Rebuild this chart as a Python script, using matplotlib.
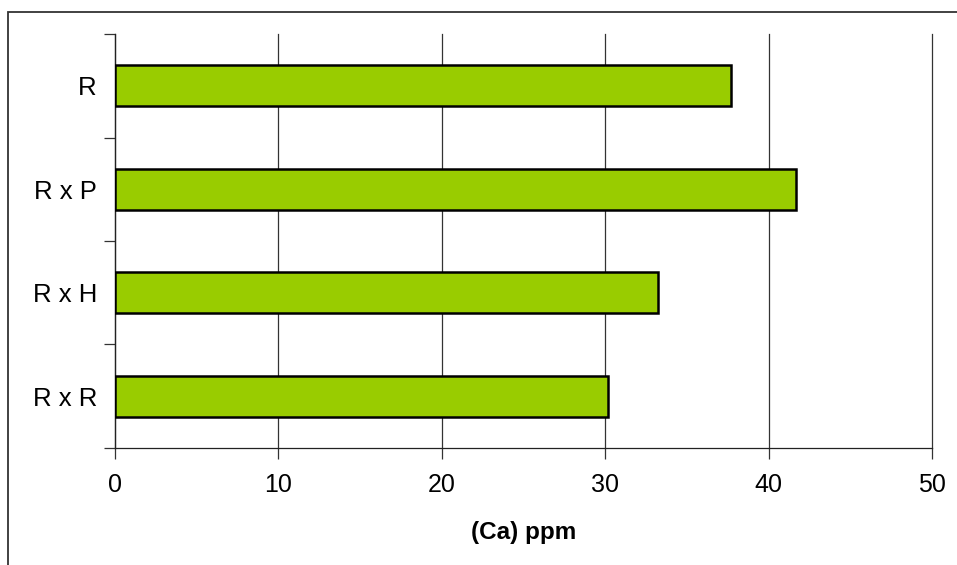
import matplotlib.pyplot as plt
from matplotlib.patches import Rectangle

plt.rcParams['font.family'] = ['Liberation Sans', 'DejaVu Sans']

# Calcium content per cross, top to bottom
categories = ['R', 'R x P', 'R x H', 'R x R']
ca_ppm = [37.7, 41.7, 33.2, 30.2]
x_ticks = [0, 10, 20, 30, 40, 50]

fig = plt.figure(figsize=(9.57, 5.65), dpi=100)
ax = fig.add_axes([0.1202, 0.2071, 0.8537, 0.7327])

# outer frame, only left and top edges fall inside the image
frame = Rectangle((8 / 957, -0.5), 2.0, 1.0 - 12 / 565 + 0.5,
                  transform=fig.transFigure, fill=False,
                  edgecolor='#333333', linewidth=1.3)
fig.patches.append(frame)

n = len(categories)
ypos = [n - 1 - i for i in range(n)]
ax.barh(ypos, ca_ppm, height=0.4, color='#99CC00', edgecolor='black',
        linewidth=1.8, zorder=3)

ax.set_xlim(0, 50)
ax.set_ylim(-0.5, n - 0.5)
ax.set_xticks(x_ticks)
ax.set_xticklabels([str(t) for t in x_ticks], fontsize=18)
ax.grid(axis='x', color='#333333', linewidth=0.9, zorder=0)
ax.set_axisbelow(True)
for gl in ax.get_xgridlines():
    gl.set_clip_on(False)

# category boundaries get the tick marks, labels sit in between
ax.set_yticks([i - 0.5 for i in range(n + 1)])
ax.set_yticklabels([])
ax.set_yticks(ypos, minor=True)
ax.set_yticklabels(categories, minor=True, fontsize=18.5)
ax.tick_params(axis='y', which='minor', length=0, pad=13)
ax.tick_params(axis='y', which='major', length=8, width=0.9, color='#333333')
ax.tick_params(axis='x', length=8, width=0.9, pad=10, color='#333333')

for side in ['top', 'right']:
    ax.spines[side].set_visible(False)
for side in ['left', 'bottom']:
    ax.spines[side].set_color('#222222')
    ax.spines[side].set_linewidth(0.9)

ax.set_xlabel('(Ca) ppm', fontsize=17.5, fontweight='bold', labelpad=17)

fig.savefig('out.png', dpi=100)
